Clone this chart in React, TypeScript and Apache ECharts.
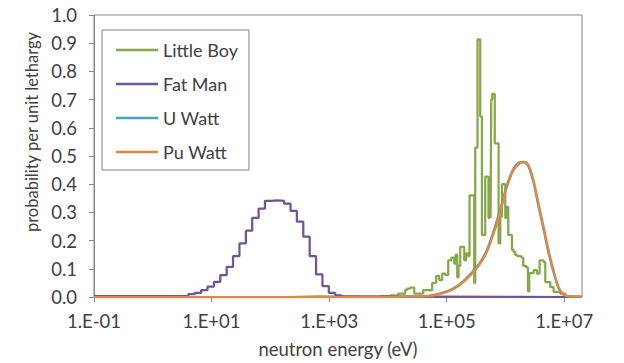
import React, { useEffect, useRef } from "react";
import * as echarts from "echarts";

const seriesNames = ["Little Boy", "Fat Man", "U Watt", "Pu Watt"];
const seriesColors = ["#86A74B", "#6F5499", "#4AA3BF", "#EA853C"];

const xTickValues = [0.1, 10, 1e3, 1e5, 1e7];
const xTickLabels = ["1.E-01", "1.E+01", "1.E+03", "1.E+05", "1.E+07"];

// Little Boy: histogram bins (left edge energy in eV, probability per unit lethargy)
const littleBoyEnergy = [
  0.1, 217, 650, 7379, 10915, 14930, 19680, 21280, 23930, 27990, 39810, 56620, 66220, 74470,
  83750, 94190, 106100, 119400, 134200, 142300, 151000, 158800, 169800, 198600, 214800, 235000,
  244300, 293800, 305500, 334200, 371500, 397200, 451900, 514100, 534600, 557000, 571500, 594300,
  656100, 762000, 814700, 870900, 990800, 1.03e6, 1.114e6, 1.288e6, 1.371e6, 1.466e6, 1.585e6,
  1.854e6, 2.005e6, 2.254e6, 2.41e6, 2.535e6, 3.0e6, 3.428e6, 3.8e6, 4.446e6, 4.75e6, 5.777e6,
  6.577e6, 8.551e6, 1.04e7, 1.17e7, 2e7,
];
const littleBoyProb = [
  0, 0.002, 0, 0.003, 0.006, 0.012, 0.025, 0.03, 0.033, 0.012, 0.024, 0.05, 0.075, 0.06,
  0.083, 0.078, 0.13, 0.14, 0.118, 0.15, 0.07, 0.11, 0.178, 0.13, 0.155, 0.145,
  0.36, 0.05, 0.53, 0.914, 0.64, 0.22, 0.427, 0.28, 0.4, 0.28, 0.7, 0.72,
  0.545, 0.19, 0.285, 0.4, 0.28, 0.32, 0.22, 0.167, 0.16, 0.149, 0.145,
  0.14, 0.11, 0.105, 0.02, 0.085, 0.095, 0.083, 0.13, 0.124, 0.053, 0.035,
  0.018, 0.012, 0.002, 0, 0,
];

// Fat Man: histogram bins (left edge energy in eV, probability per unit lethargy)
const fatManEnergy = [
  0.1, 3.14, 4.03, 5.18, 6.64, 8.53, 10.96, 14.06, 18.07, 23.17, 29.8, 38.3, 49.1, 63.1, 80.9,
  104, 133.7, 171.4, 220.3, 282.5, 363, 466.7, 598.4, 769.1, 986, 1268, 1626, 2085, 2e7,
];
const fatManProb = [
  0.003, 0.004, 0.01, 0.015, 0.024, 0.037, 0.054, 0.078, 0.107, 0.145, 0.19, 0.235, 0.281, 0.313,
  0.341, 0.343, 0.341, 0.331, 0.305, 0.267, 0.214, 0.145, 0.08, 0.039, 0.015, 0.006, 0.002, 0, 0,
];

// Watt fission spectra (energy in eV, probability per unit lethargy)
const wattEnergy = [
  0.1, 7379, 23930, 52360, 100700, 149300, 220800, 285800, 371500, 483100, 626600, 814700,
  1.059e6, 1.371e6, 1.782e6, 2.085e6, 2.467e6, 3.0e6, 3.656e6, 4.446e6, 5.408e6, 6.577e6, 8.0e6,
  9.727e6, 1.183e7, 2e7,
];
const uWattProb = [
  0, 0, 0.002, 0.005, 0.02, 0.038, 0.069, 0.094, 0.124, 0.168, 0.234, 0.311, 0.398, 0.455,
  0.478, 0.477, 0.462, 0.404, 0.318, 0.238, 0.155, 0.086, 0.03, 0.008, 0.002, 0.001,
];
const puWattProb = [
  0, 0, 0.002, 0.004, 0.018, 0.035, 0.065, 0.089, 0.118, 0.16, 0.225, 0.3, 0.39, 0.45,
  0.476, 0.479, 0.467, 0.414, 0.33, 0.25, 0.166, 0.095, 0.035, 0.01, 0.003, 0.002,
];

const FONT = "Lato, 'Open Sans', sans-serif";
const TEXT = "#404040";
const AXIS = "#868686";

function pairs(xs: number[], ys: number[]) {
  return xs.map((x, i) => [x, ys[i]]);
}

function xLabel(v: number) {
  for (let i = 0; i < xTickValues.length; i++) {
    if (Math.abs(Math.log10(v) - Math.log10(xTickValues[i])) < 1e-6) return xTickLabels[i];
  }
  return "";
}

export default function App() {
  const ref = useRef<HTMLDivElement>(null);
  useEffect(() => {
    if (!ref.current) return;
    const chart = echarts.init(ref.current, undefined, { renderer: "svg" });
    const lineBase = { type: "line", symbol: "none", showSymbol: false, clip: true };
    chart.setOption({
      animation: false,
      backgroundColor: "#ffffff",
      textStyle: { fontFamily: FONT },
      grid: {
        left: 94,
        right: 42,
        top: 15,
        bottom: 66,
        show: true,
        borderColor: AXIS,
        borderWidth: 1,
        backgroundColor: "transparent",
        containLabel: false,
        outerBoundsMode: "none",
      },
      legend: {
        data: seriesNames,
        orient: "vertical",
        left: 102,
        top: 30,
        icon: "rect",
        itemWidth: 42,
        itemHeight: 2.5,
        itemGap: 14,
        padding: [10, 11, 8, 14],
        backgroundColor: "#ffffff",
        borderColor: AXIS,
        borderWidth: 1,
        borderRadius: 0,
        textStyle: { fontFamily: FONT, fontSize: 18, lineHeight: 20, color: TEXT },
      },
      xAxis: {
        type: "log",
        logBase: 10,
        min: 0.1,
        max: 2e7,
        name: "neutron energy (eV)",
        nameLocation: "middle",
        nameGap: 42,
        nameTextStyle: { fontFamily: FONT, fontSize: 18.5, color: TEXT },
        axisLine: { show: true, lineStyle: { color: AXIS, width: 1 } },
        axisTick: {
          show: true,
          length: 5,
          inside: false,
          customValues: xTickValues,
          lineStyle: { color: AXIS },
        },
        minorTick: { show: false },
        axisLabel: {
          customValues: xTickValues,
          formatter: (v: number) => xLabel(v),
          fontFamily: FONT,
          fontSize: 18.5,
          color: TEXT,
          margin: 14,
        },
        splitLine: { show: false },
        minorSplitLine: { show: false },
      },
      yAxis: {
        type: "value",
        min: 0,
        max: 1,
        interval: 0.1,
        name: "probability per unit lethargy",
        nameLocation: "middle",
        nameGap: 53,
        nameTextStyle: { fontFamily: FONT, fontSize: 16.5, color: TEXT, padding: [0, 0, 0, 48] },
        axisLine: { show: true, lineStyle: { color: AXIS, width: 1 } },
        axisTick: { show: true, length: 5, inside: false, lineStyle: { color: AXIS } },
        axisLabel: {
          formatter: (v: number) => v.toFixed(1),
          fontFamily: FONT,
          fontSize: 18.5,
          color: TEXT,
          margin: 17,
        },
        splitLine: { show: false },
      },
      series: [
        {
          ...lineBase,
          name: seriesNames[0],
          step: "end",
          data: pairs(littleBoyEnergy, littleBoyProb),
          lineStyle: { color: seriesColors[0], width: 2.25 },
          itemStyle: { color: seriesColors[0] },
        },
        {
          ...lineBase,
          name: seriesNames[1],
          step: "end",
          data: pairs(fatManEnergy, fatManProb),
          lineStyle: { color: seriesColors[1], width: 2.25 },
          itemStyle: { color: seriesColors[1] },
        },
        {
          ...lineBase,
          name: seriesNames[2],
          smooth: 0.3,
          data: pairs(wattEnergy, uWattProb),
          lineStyle: { color: seriesColors[2], width: 2.25 },
          itemStyle: { color: seriesColors[2] },
        },
        {
          ...lineBase,
          name: seriesNames[3],
          smooth: 0.3,
          data: pairs(wattEnergy, puWattProb),
          lineStyle: { color: seriesColors[3], width: 2.25 },
          itemStyle: { color: seriesColors[3] },
        },
      ],
    });
    return () => chart.dispose();
  }, []);
  return (
    <div
      ref={ref}
      style={{ position: "fixed", left: 0, top: 0, width: 624, height: 363, background: "#fff" }}
    />
  );
}
